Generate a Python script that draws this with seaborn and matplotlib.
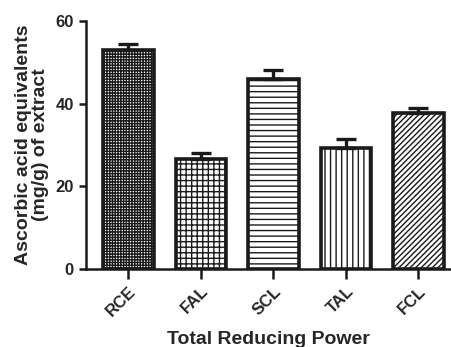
import numpy as np
import pandas as pd
import matplotlib
matplotlib.use('Agg')
import matplotlib.pyplot as plt
import seaborn as sns

# data
samples = ['RCE', 'FAL', 'SCL', 'TAL', 'FCL']
means = [53.0, 26.5, 46.0, 29.3, 37.6]
sems = [1.5, 1.6, 2.0, 2.0, 1.2]
hatches = ['++++++', '+++', '---', '|||', '//////']

sns.set_style('ticks')
plt.rcParams['font.family'] = ['Liberation Sans', 'DejaVu Sans']
plt.rcParams['font.weight'] = 'bold'
plt.rcParams['hatch.linewidth'] = 1.0

df = pd.DataFrame({'sample': samples, 'value': means})

fig, ax = plt.subplots(figsize=(4.51, 3.47), dpi=100)
sns.barplot(data=df, x='sample', y='value', color='white', width=0.7,
            edgecolor='#1a1a1a', linewidth=2.6, errorbar=None, ax=ax)
for bar, h in zip(ax.patches, hatches):
    bar.set_hatch(h)
ax.errorbar(range(len(samples)), means, yerr=[np.zeros(len(sems)), sems],
            fmt='none', ecolor='#1a1a1a', elinewidth=2.4, capsize=7,
            capthick=2.4, zorder=1)

ax.set_ylim(0, 60)
ax.set_yticks([0, 20, 40, 60])
ax.set_xlim(-0.59, 4.45)
sns.despine(ax=ax)
for s in ['left', 'bottom']:
    ax.spines[s].set_linewidth(1.8)
    ax.spines[s].set_color('#1a1a1a')
ax.tick_params(axis='both', width=1.8, length=5, color='#1a1a1a',
               labelsize=12)
ax.tick_params(axis='x', length=7)
ax.set_xticks(range(len(samples)))
ax.set_xticklabels(samples, rotation=45, ha='right', rotation_mode='anchor',
                   fontweight='bold')
for t in ax.get_yticklabels():
    t.set_fontweight('bold')
ax.set_ylabel('Ascorbic acid equivalents\n(mg/g) of extract',
              fontsize=14, fontweight='bold', labelpad=5, linespacing=1.0)
ax.set_xlabel('Total Reducing Power', fontsize=14, fontweight='bold',
              labelpad=9)

fig.subplots_adjust(left=0.19, right=1.0, top=0.94, bottom=0.225)
fig.savefig('out.png', dpi=100)
